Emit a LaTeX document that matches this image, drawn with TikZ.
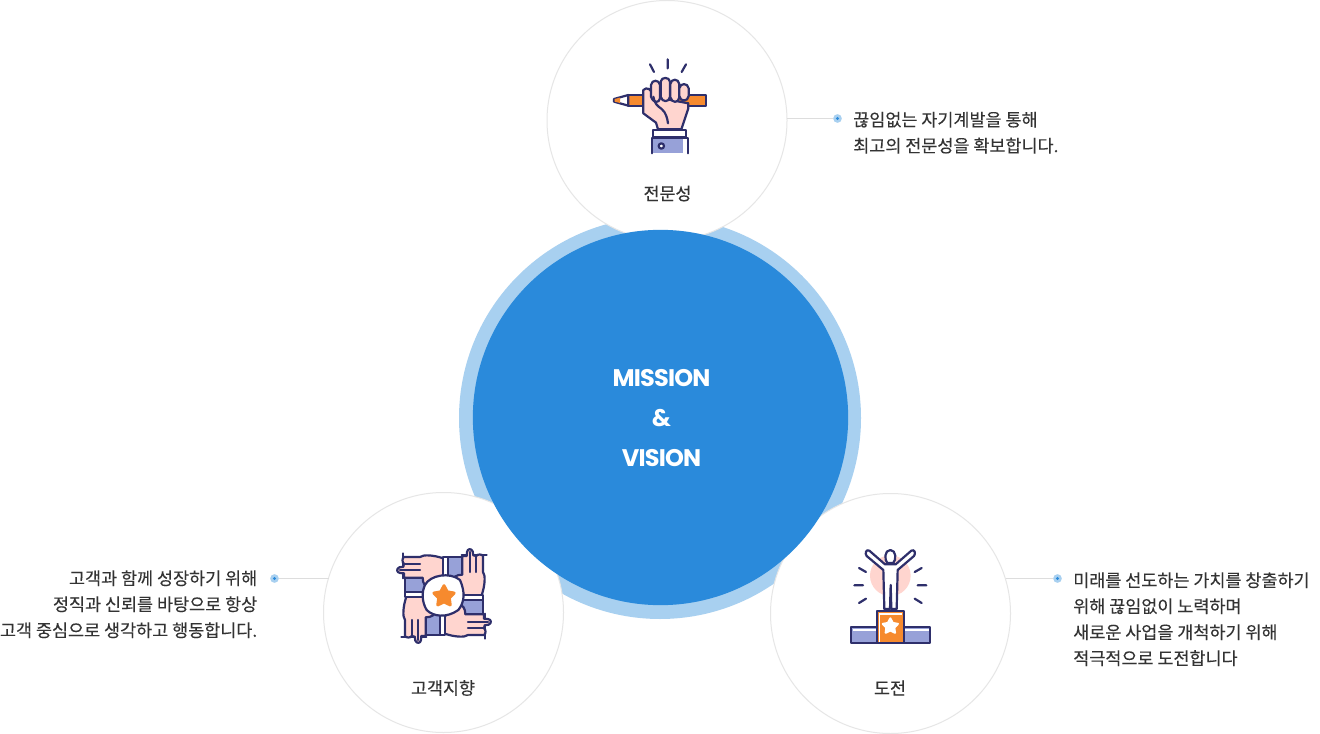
\documentclass[tikz,border=0pt]{standalone}
\usepackage{fontspec}
\setmainfont{Noto Sans CJK KR}
\newfontfamily\cjkm[FakeBold=0.4]{Noto Sans CJK KR}
\newfontfamily\cjkc[FakeBold=0.12]{Noto Sans CJK KR}
\newfontfamily\titlefont[LetterSpace=-3.5]{Poppins Bold}
\usetikzlibrary{shapes.geometric}
\definecolor{navy}{HTML}{2E2F6B}
\definecolor{iorange}{HTML}{F68A2E}
\definecolor{ipink}{HTML}{FFD5CF}
\definecolor{ipurple}{HTML}{97A1D8}
\definecolor{mainblue}{HTML}{2A8ADB}
\definecolor{ringblue}{HTML}{A8D0F0}
\definecolor{circline}{HTML}{E6E6E6}
\definecolor{conline}{HTML}{DDDDDD}
\definecolor{txt}{HTML}{333333}
\tikzset{
  badge/.style={circle,draw=circline,line width=0.75pt,fill=white,minimum size=180pt,inner sep=0pt},
  dotnode/.style={circle,fill=ringblue,minimum size=6.5pt,inner sep=0pt,path picture={\fill[mainblue] (path picture bounding box.center) circle (1.2pt);}},
  conn/.style={draw=conline,line width=0.75pt},
  caption/.style={text=txt,font=\cjkc\fontsize{13.08}{19.5}\selectfont,inner sep=0pt},
  title/.style={text=txt,font=\cjkm\fontsize{13}{14}\selectfont,inner sep=0pt},
  ln/.style={draw=navy,line width=1.65pt,line cap=round,line join=round},
  mainlabel/.style={text=white,font=\titlefont\fontsize{18}{18}\selectfont,inner sep=0pt}
}
\begin{document}
\begin{tikzpicture}[x=0.75pt,y=-0.75pt]
\useasboundingbox (0,0) rectangle (1320,734);
\fill[white] (0,0) rectangle (1320,734);
\node[circle,fill=ringblue,minimum size=301.5pt,inner sep=0pt] (ring) at (660,418) {};
\node[badge] (topc) at (667,120.5) {};
\node[badge] (leftc) at (443.5,612.5) {};
\node[badge] (rightc) at (890.5,613.5) {};
\node[circle,fill=mainblue,minimum size=281.5pt,inner sep=0pt] (core) at (660.5,417.5) {};
\node[mainlabel] (m1) at (661.5,378) {MISSION};
\node[mainlabel] (m2) at (661.5,418.5) {\&};
\node[mainlabel] (m3) at (661.5,458) {VISION};
% top icon
\begin{scope}[shift={(590,40)},scale=1/3]
\draw[ln,fill=iorange] (115,165) -- (348,165) -- (348,197) -- (115,197) -- cycle;
\draw[ln,fill=white] (115,165) -- (72,177) -- (72,185) -- (115,197) -- cycle;
\fill[iorange] (74,177) -- (90,173) -- (90,189) -- (74,185) -- cycle;
\draw[ln,fill=ipink] (160,150) .. controls (170,140) and (185,145) .. (190,170) -- (295,190) -- (295,205) -- (274,268) -- (204,268) -- (198,248) -- (160,220) -- cycle;
\draw[ln,fill=ipink] (183,135) .. controls (185,118) and (208,118) .. (210,135) -- (210,175) .. controls (208,190) and (190,190) .. (183,170) -- cycle;
\draw[ln,fill=ipink] (212,125) .. controls (214,110) and (238,110) .. (240,125) -- (240,170) .. controls (238,188) and (216,188) .. (212,170) -- cycle;
\draw[ln,fill=ipink] (241,132) .. controls (243,115) and (266,115) .. (268,132) -- (268,172) .. controls (266,190) and (245,190) .. (241,172) -- cycle;
\draw[ln,fill=ipink] (268,145) .. controls (270,128) and (294,128) .. (296,145) -- (296,168) .. controls (294,186) and (270,186) .. (268,168) -- cycle;
\draw[ln] (190,170) .. controls (192,190) and (205,200) .. (215,207) .. controls (228,218) and (232,235) .. (234,250);
\draw[ln,fill=white] (190,270) rectangle (288,292);
\fill[ipurple] (185,293) rectangle (295,340);
\fill[white] (280,295) rectangle (290,340);
\draw[ln] (185,340) -- (185,293) -- (295,293) -- (295,340);
\draw[ln,fill=white] (214,318) circle (8);
\draw[ln] (180,73) -- (192,96) (233,58) -- (233,85) (288,73) -- (275,96);
\end{scope}
% left icon
\begin{scope}[shift={(380,535)},scale=1/3]
\foreach \a in {270,180,90,0}{
\begin{scope}[shift={(192,183)},rotate=\a,shift={(-192,-183)}]
\draw[ln] (70,55) -- (70,130);
\draw[ln,fill=ipurple] (205,65) -- (258,65) -- (258,130) -- (205,130) -- cycle;
\end{scope}}
\foreach \a in {270,180,90,0}{
\begin{scope}[shift={(192,183)},rotate=\a,shift={(-192,-183)}]
\draw[ln,fill=ipink] (190,70) .. controls (160,60) and (130,58) .. (120,66) -- (72,66) .. controls (66,68) and (66,84) .. (72,86) -- (70,95) -- (58,97) .. controls (48,102) and (50,112) .. (60,114) -- (72,115) -- (72,128) -- (128,128) .. controls (128,145) and (136,160) .. (150,155) -- (190,122) -- cycle;
\draw[ln] (72,86) -- (120,86) (60,105) -- (120,105);
\draw[ln,fill=white] (190,66) rectangle (204,126);
\end{scope}}
\draw[ln,fill=white] (135,150) .. controls (150,120) and (210,110) .. (240,135) .. controls (255,170) and (255,200) .. (235,225) .. controls (200,250) and (160,245) .. (140,225) .. controls (125,200) and (125,170) .. (135,150) -- cycle;
\node[star,star points=5,star point ratio=1.9,fill=iorange,draw=iorange,line width=2.2pt,line join=round,minimum size=16pt,inner sep=0pt] (lstar) at (192,184) {};
\end{scope}
% right icon
\begin{scope}[shift={(830,535)},scale=1/3]
\fill[ipink] (181,122) circle (61);
\draw[ln,fill=white] (118,47) .. controls (108,41) and (104,56) .. (110,63) -- (160,105) -- (163,222) -- (180,222) -- (182,150) -- (184,222) -- (200,222) -- (203,105) -- (252,63) .. controls (258,56) and (254,41) .. (244,47) -- (197,88) -- (165,88) -- cycle;
\draw[ln,fill=white] (181,45) .. controls (163,45) and (163,75) .. (172,84) -- (190,84) .. controls (199,75) and (199,45) .. (181,45) -- cycle;
\draw[ln] (87,99) -- (108,111) (73,151) -- (99,151) (87,204) -- (108,191) (275,99) -- (254,111) (289,151) -- (263,151) (275,204) -- (254,191);
\draw[ln,fill=ipurple] (62,276) rectangle (142,324);
\draw[ln,fill=ipurple] (222,276) rectangle (300,324);
\fill[white] (68,283) rectangle (139,288);
\fill[white] (226,283) rectangle (296,288);
\draw[ln,fill=iorange] (141,228) rectangle (222,324);
\fill[white] (146,234) rectangle (217,240);
\fill[white] (146,240) rectangle (151,320);
\node[star,star points=5,star point ratio=1.9,fill=white,draw=white,line width=1.5pt,line join=round,minimum size=12pt,inner sep=0pt] (rstar) at (181,274) {};
\end{scope}
% titles
\node[title] (t1) at (667.5,193.5) {전문성};
\node[title] (t2) at (443,688) {고객지향};
\node[title] (t3) at (890,688) {도전};
% dots
\node[dotnode] (d1) at (837.5,118.5) {};
\node[dotnode] (d2) at (274.5,578.5) {};
\node[dotnode] (d3) at (1057.5,578.5) {};
\coordinate (e1) at (787,118.5);
\coordinate (e2) at (328.5,578.5);
\coordinate (e3) at (1005.5,578.5);
\draw[conn] (e1) -- (d1);
\draw[conn] (e2) -- (d2);
\draw[conn] (e3) -- (d3);
% captions
\node[caption,anchor=north west,align=left] (c1) at (853,111.5) {끊임없는 자기계발을 통해\\최고의 전문성을 확보합니다.};
\node[caption,anchor=north east,align=right] (c2) at (257.5,570) {고객과 함께 성장하기 위해\\정직과 신뢰를 바탕으로 항상\\고객 중심으로 생각하고 행동합니다.};
\node[caption,anchor=north west,align=left] (c3) at (1073,572) {미래를 선도하는 가치를 창출하기\\위해 끊임없이 노력하며\\새로운 사업을 개척하기 위해\\적극적으로 도전합니다};
\end{tikzpicture}
\end{document}
